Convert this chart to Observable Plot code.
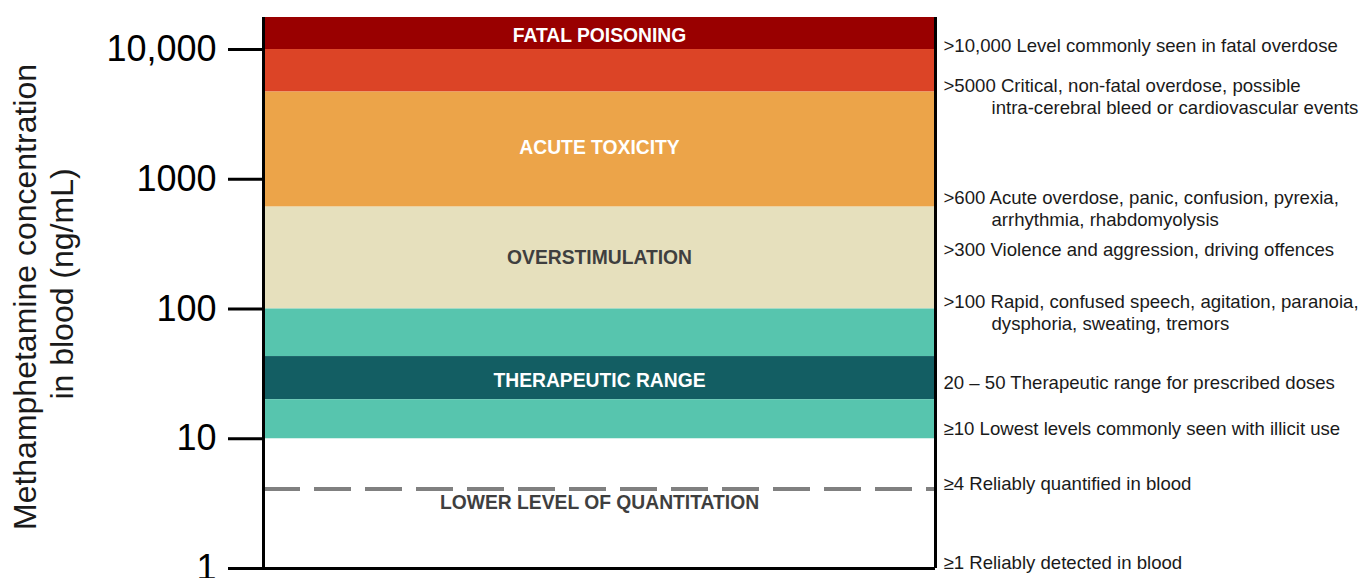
<!DOCTYPE html>
<html>
<head>
<meta charset="utf-8">
<script src="https://cdn.jsdelivr.net/npm/d3@7"></script>
<script src="https://cdn.jsdelivr.net/npm/@observablehq/plot@0.6"></script>
<style>
  html, body { margin: 0; padding: 0; background: #fff; }
  #chart { width: 1364px; height: 578px; overflow: hidden; }
</style>
</head>
<body>
<div id="chart"></div>
<script>
// ---- Data ----
const yDomain = [1, 17650];

// Concentration bands (ng/mL)
const bandLow   = [10000, 4700, 610, 100, 43, 20, 10];
const bandHigh  = [17650, 10000, 4700, 610, 100, 43, 20];
const bandColor = ["#990000", "#dc4426", "#eca449", "#e6e0bd", "#57c5ae", "#135e63", "#57c5ae"];

// Band titles (inside the plot)
const bandTitles      = ["FATAL POISONING", "ACUTE TOXICITY", "OVERSTIMULATION", "THERAPEUTIC RANGE", "LOWER LEVEL OF QUANTITATION"];
const bandTitleAt     = [12800, 1760, 249, 28.1, 3.2];
const bandTitleColor  = ["#ffffff", "#ffffff", "#3f3f3f", "#ffffff", "#3f3f3f"];

// Lower limit of quantitation
const quantLimit = [4.1];

// Y axis ticks
const tickValues = [1, 10, 100, 1000, 10000];
const tickLabels = ["1", "10", "100", "1000", "10,000"];

// Right-hand annotations
const annoAt    = [10640, 5190, 711, 283, 114, 26.7, 11.9, 4.44, 1.11];
const annoLine1 = [
  ">10,000 Level commonly seen in fatal overdose",
  ">5000 Critical, non-fatal overdose, possible",
  ">600 Acute overdose, panic, confusion, pyrexia,",
  ">300 Violence and aggression, driving offences",
  ">100 Rapid, confused speech, agitation, paranoia,",
  "20 \u2013 50 Therapeutic range for prescribed doses",
  "\u226510 Lowest levels commonly seen with illicit use",
  "\u22654 Reliably quantified in blood",
  "\u22651 Reliably detected in blood"
];
const annoLine2 = [
  "",
  "intra-cerebral bleed or cardiovascular events",
  "arrhythmia, rhabdomyolysis",
  "",
  "dysphoria, sweating, tremors",
  "", "", "", ""
];

const yLabel1 = "Methamphetamine concentration";
const yLabel2 = "in blood (ng/mL)";

// ---- Build tables ----
const bands = bandLow.map((lo, i) => ({lo, hi: bandHigh[i], color: bandColor[i]}));
const titles = bandTitles.map((t, i) => ({t, y: bandTitleAt[i], c: bandTitleColor[i]}));
const annos = annoAt.map((y, i) => ({y, l1: annoLine1[i], l2: annoLine2[i]}));
const annos2 = annos.filter(d => d.l2);

const font = "Liberation Sans, Arial, Helvetica, sans-serif";

const chart = Plot.plot({
  width: 1364,
  height: 578,
  marginLeft: 263,
  marginRight: 429,
  marginTop: 17,
  marginBottom: 10,
  style: {fontFamily: font, background: "#fff", overflow: "visible"},
  x: {domain: [0, 1], axis: null},
  y: {type: "log", domain: yDomain, axis: null},
  marks: [
    Plot.rect(bands, {x1: () => 0, x2: () => 1, y1: "lo", y2: "hi", fill: "color"}),
    Plot.ruleY(quantLimit, {stroke: "#808080", strokeWidth: 4, strokeDasharray: "37,14"}),
    Plot.text(titles, {x: () => 0.5, y: "y", text: "t", fill: "c", fontSize: 19.3, fontWeight: "bold"}),
    // frame: left axis line, right border, bottom border
    Plot.ruleX([0, 1], {stroke: "#000", strokeWidth: 3}),
    Plot.ruleY([yDomain[0]], {stroke: "#000", strokeWidth: 3}),
    Plot.axisY({
      ticks: tickValues,
      tickFormat: d => tickLabels[tickValues.indexOf(d)],
      tickSize: 35,
      tickPadding: 12,
      strokeWidth: 3,
      fontSize: 36,
      fill: "#000",
      label: null
    }),
    // axis title (two lines, rotated)
    Plot.text([yLabel1], {frameAnchor: "left", textAnchor: "middle", text: d => d, rotate: -90, dx: -238, dy: 4, fontSize: 32, fill: "#1a1a1a"}),
    Plot.text([yLabel2], {frameAnchor: "left", textAnchor: "middle", text: d => d, rotate: -90, dx: -201, dy: -9, fontSize: 32, fill: "#1a1a1a"}),
    // right-hand annotations
    Plot.text(annos, {x: () => 1, y: "y", text: "l1", textAnchor: "start", dx: 8, fontSize: 18.6, fill: "#1a1a1a"}),
    Plot.text(annos2, {x: () => 1, y: "y", text: "l2", textAnchor: "start", dx: 56, dy: 22, fontSize: 18.6, fill: "#1a1a1a"})
  ]
});

document.getElementById("chart").appendChild(chart);
</script>
</body>
</html>
